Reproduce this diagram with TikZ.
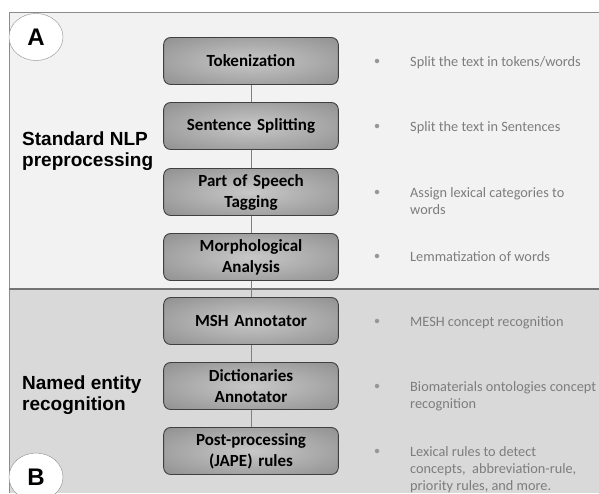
\documentclass[tikz,border=0pt]{standalone}
\usepackage{fontspec}
\setmainfont{Carlito}
\newfontfamily\labelfont{Liberation Sans}
\usetikzlibrary{shapes.geometric}
\definecolor{panelA}{RGB}{242,242,242}
\definecolor{panelB}{RGB}{217,217,217}
\definecolor{rim}{RGB}{140,140,140}
\definecolor{stagein}{RGB}{200,200,200}
\definecolor{stageout}{RGB}{122,122,122}
\definecolor{notegray}{RGB}{125,125,125}
\pgfdeclareradialshading{stageglow}{\pgfpoint{0bp}{0bp}}{color(0bp)=(stagein); color(50bp)=(stageout); color(72bp)=(stageout)}

\tikzset{
  stage/.style={draw=black!75, line width=0.9pt, rounded corners=7pt,
    minimum width=172pt, minimum height=47pt, text width=168pt, align=center,
    shading=stageglow,
    font=\fontsize{17}{21}\selectfont\bfseries},
  note/.style={anchor=north west, align=left, inner sep=0pt, text=notegray,
    font=\fontsize{14.3}{17}\selectfont},
  dot/.style={circle, fill=notegray!80, inner sep=0pt, minimum size=4.5pt},
  phase/.style={anchor=west, align=left, inner sep=0pt,
    font=\labelfont\fontsize{19}{21.5}\selectfont\bfseries},
  badge/.style={ellipse, draw=rim, fill=white, minimum width=54pt, minimum height=48pt,
    font=\labelfont\fontsize{24}{24}\selectfont\bfseries},
  link/.style={draw=gray, line width=0.8pt}
}

\begin{document}
\begin{tikzpicture}[x=1pt,y=-1pt]
  \useasboundingbox (0,0) rectangle (599,493);
  \clip (0,0) rectangle (599,493);
  % panels
  \fill[panelA] (9,12) rectangle (599,289);
  \fill[panelB] (9,289) rectangle (599,493);
  \draw[rim, line width=1pt] (599,12) -- (9,12) -- (9,493);
  \draw[black!55, line width=2pt] (9,289) -- (599,289);
  % badges
  \node[badge, minimum height=47pt] (bA) at (36,37) {A};
  \node[badge] (bB) at (36,477) {B};
  % phase labels
  \node[phase] (std) at (22,151) {Standard NLP\\preprocessing};
  \node[phase] (ner) at (22,395) {Named entity\\recognition};
  % stages
  \node[stage] (tok) at (251,61) {Tokenization};
  \node[stage] (sent) at (251,126) {Sentence Splitting};
  \node[stage] (pos) at (251,192) {Part of Speech\\Tagging};
  \node[stage] (morph) at (251,257) {Morphological\\Analysis};
  \node[stage] (msh) at (251,321) {MSH Annotator};
  \node[stage] (dict) at (251,386) {Dictionaries\\Annotator};
  \node[stage] (post) at (251,451) {Post-processing\\(JAPE) rules};
  % links
  \draw[link] (tok) -- (sent);
  \draw[link] (sent) -- (pos);
  \draw[link] (pos) -- (morph);
  \draw[link] (morph) -- (msh);
  \draw[link] (msh) -- (dict);
  \draw[link] (dict) -- (post);
  % notes
  \node[dot] (d1) at (377,61) {};
  \node[note] (n1) at (410,56) {Split the text in tokens/words};
  \node[dot] (d2) at (377,126) {};
  \node[note] (n2) at (410,121) {Split the text in Sentences};
  \node[dot] (d3) at (377,192) {};
  \node[note] (n3) at (410,187) {Assign lexical categories to\\words};
  \node[dot] (d4) at (377,256) {};
  \node[note] (n4) at (410,251) {Lemmatization of words};
  \node[dot] (d5) at (377,321) {};
  \node[note] (n5) at (410,316) {MESH concept recognition};
  \node[dot] (d6) at (377,386) {};
  \node[note] (n6) at (410,381) {Biomaterials ontologies concept\\recognition};
  \node[dot] (d7) at (377,451) {};
  \node[note] (n7) at (410,446) {Lexical rules to detect\\concepts,\ \ abbreviation-rule,\\priority rules, and more.};
\end{tikzpicture}
\end{document}
